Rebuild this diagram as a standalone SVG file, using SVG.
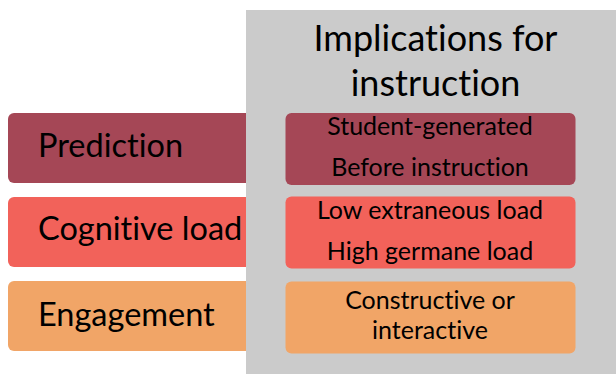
<svg xmlns="http://www.w3.org/2000/svg" width="616" height="374" viewBox="0 0 616 374">
<style>
text{font-family:Lato,"Liberation Sans",sans-serif;fill:#000;font-variant-ligatures:none;font-feature-settings:"liga" 0}
.lbl{font-size:32.5px}
.sm{font-size:25px;text-anchor:middle}
.ttl{font-size:36px;text-anchor:middle}
.c1{fill:#A54756}.c2{fill:#F2625A}.c3{fill:#F1A567}
</style>
<rect width="616" height="374" fill="#fff"/>
<g id="left">
<g id="prediction"><rect class="c1" x="8" y="113" width="260" height="70" rx="6"/></g>
<g id="cognitive"><rect class="c2" x="8" y="197" width="260" height="70" rx="6"/></g>
<g id="engagement"><rect class="c3" x="8" y="281" width="260" height="70" rx="6"/></g>
</g>
<g id="panel">
<rect x="246" y="10" width="370" height="364" fill="#CBCBCB"/>
<text class="ttl" x="435.5" y="51">Implications for</text>
<text class="ttl" x="435.5" y="96">instruction</text>
</g>
<g id="prediction-label"><text class="lbl" x="38" y="157">Prediction</text></g>
<g id="cognitive-label"><text class="lbl" x="38" y="240">Cognitive load</text></g>
<g id="engagement-label"><text class="lbl" x="38" y="326">Engagement</text></g>
<g id="impl-prediction">
<rect class="c1" x="285.5" y="113" width="290" height="72" rx="6"/>
<text class="sm" x="430" y="135">Student-generated</text>
<text class="sm" x="430" y="176">Before instruction</text>
</g>
<g id="impl-cognitive">
<rect class="c2" x="285.5" y="196.5" width="290" height="72" rx="6"/>
<text class="sm" x="430" y="219">Low extraneous load</text>
<text class="sm" x="430" y="260">High germane load</text>
</g>
<g id="impl-engagement">
<rect class="c3" x="285.5" y="281.5" width="290" height="72" rx="6"/>
<text class="sm" x="430" y="309">Constructive or</text>
<text class="sm" x="430" y="339">interactive</text>
</g>
<g id="connectors"/>
</svg>
